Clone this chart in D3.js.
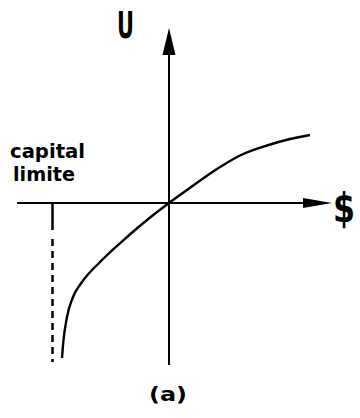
<!DOCTYPE html>
<html><head><meta charset="utf-8">
<script src="https://cdn.jsdelivr.net/npm/d3@7"></script>
<style>body{margin:0;background:#fff}svg{display:block}</style>
</head><body>
<script>
// utility curve U($), wealth relative to current position (arbitrary units)
const curveX = [-10.7, -10.6, -10.2, -9.6, -8.7, -6.9, -4.2, -2.2, 0, 1.8, 4.8, 7.1, 9.8, 12.1, 14.1];
const curveU = [-15.5, -14.2, -11.4, -9.4, -7.9, -5.9, -3.4, -1.7, 0, 1.3, 3.4, 4.75, 5.75, 6.4, 6.8];
const capitalLimit = -11.65;
const labels = ["capital", "limite"];
const axisLabels = {x: "$", y: "U"};
const caption = "(a)";

const W = 360, H = 418;
const svg = d3.select("body").append("svg").attr("width", W).attr("height", H);
const x = d3.scaleLinear().domain([-15.2, 16.6]).range([17, 335]);
const y = d3.scaleLinear().domain([-16.2, 17.5]).range([365, 28]);
const ink = "#000";

// x axis
svg.append("line").attr("x1", x(-15.2)).attr("x2", x(14)).attr("y1", y(0)).attr("y2", y(0))
  .attr("stroke", ink).attr("stroke-width", 2.2);
svg.append("path").attr("d", `M${x(13.4)},${y(0)-5}L${x(16.3)},${y(0)}L${x(13.4)},${y(0)+5}Z`).attr("fill", ink);
// y axis
svg.append("line").attr("x1", x(0)).attr("x2", x(0)).attr("y1", y(-16.2)).attr("y2", y(15))
  .attr("stroke", ink).attr("stroke-width", 2);
svg.append("path").attr("d", `M${x(0)-6.5},${y(14.8)}L${x(0)},${y(17.5)}L${x(0)+6.5},${y(14.8)}Z`).attr("fill", ink);

// capital limit dashed line
svg.append("line").attr("x1", x(capitalLimit)).attr("x2", x(capitalLimit))
  .attr("y1", y(0)).attr("y2", y(-15.9)).attr("stroke", ink).attr("stroke-width", 2.5)
  .attr("stroke-dasharray", "27,9" + ",7,5".repeat(14));

// utility curve
const pts = curveX.map((d, i) => [x(d), y(curveU[i])]);
svg.append("path").attr("d", d3.line().curve(d3.curveMonotoneX)(pts))
  .attr("fill", "none").attr("stroke", ink).attr("stroke-width", 2.4);

const font = "'DejaVu Sans', sans-serif";
svg.append("text").attr("x", 10).attr("y", 158).text(labels[0])
  .attr("font-family", font).attr("font-weight", "bold").attr("font-size", 20)
  .attr("textLength", 75).attr("lengthAdjust", "spacingAndGlyphs");
svg.append("text").attr("x", 13).attr("y", 181).text(labels[1])
  .attr("font-family", font).attr("font-weight", "bold").attr("font-size", 20)
  .attr("textLength", 62).attr("lengthAdjust", "spacingAndGlyphs");
svg.append("text").attr("x", 117).attr("y", 38).text(axisLabels.y)
  .attr("font-family", font).attr("font-weight", "bold").attr("font-size", 37)
  .attr("textLength", 17).attr("lengthAdjust", "spacingAndGlyphs");
svg.append("text").attr("x", 333).attr("y", 222).text(axisLabels.x)
  .attr("font-family", font).attr("font-weight", "bold").attr("font-size", 40)
  .attr("textLength", 22).attr("lengthAdjust", "spacingAndGlyphs");
svg.append("text").attr("x", 168).attr("y", 401).attr("text-anchor", "middle").text(caption)
  .attr("font-family", font).attr("font-weight", "bold").attr("font-size", 19)
  .attr("textLength", 38).attr("lengthAdjust", "spacingAndGlyphs");
</script>
</body></html>
